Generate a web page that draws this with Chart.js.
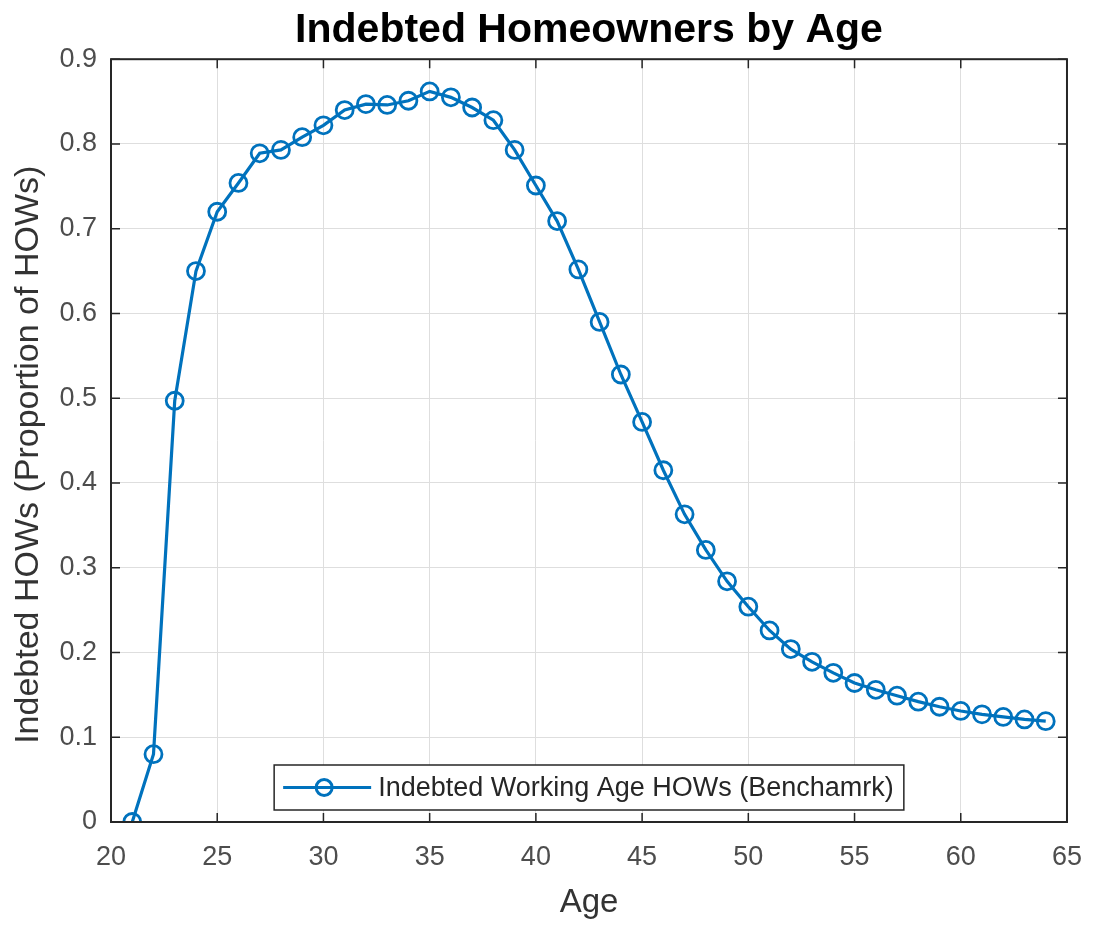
<!DOCTYPE html>
<html>
<head>
<meta charset="utf-8">
<script src="https://cdn.jsdelivr.net/npm/chart.js@4/dist/chart.umd.min.js"></script>
<style>
  html, body { margin: 0; padding: 0; background: #fff; }
  #wrap { width: 1101px; height: 926px; }
</style>
</head>
<body>
<div id="wrap"><canvas id="how"></canvas></div>
<script>
const ages = [21, 22, 23, 24, 25, 26, 27, 28, 29, 30, 31, 32, 33, 34, 35, 36, 37, 38, 39, 40, 41, 42,
    43, 44, 45, 46, 47, 48, 49, 50, 51, 52, 53, 54, 55, 56, 57, 58, 59, 60, 61, 62, 63, 64];
const indebted = [0.000, 0.080, 0.497, 0.650, 0.720, 0.754, 0.789, 0.793, 0.808, 0.822, 0.840, 0.847,
    0.846, 0.851, 0.862, 0.855, 0.843, 0.828, 0.793, 0.751, 0.709, 0.652, 0.590, 0.528, 0.472, 0.415,
    0.363, 0.321, 0.284, 0.254, 0.226, 0.204, 0.189, 0.176, 0.164, 0.156, 0.149, 0.142, 0.136, 0.131,
    0.127, 0.124, 0.121, 0.119];
const seriesName = 'Indebted Working Age HOWs (Benchamrk)';
const blue = '#0072BD';
const fontFam = '"Liberation Sans", Arial, sans-serif';

// box, inward ticks on all four sides and the legend inside the axes (matlab style)
const matlabBox = {
    id: 'matlabBox',
    afterLayout(chart) {
        // centre the title over the axes, not the whole canvas
        const a = chart.chartArea;
        if (chart.titleBlock) {
            chart.titleBlock.left = a.left;
            chart.titleBlock.right = a.right;
            chart.titleBlock.width = a.right - a.left;
        }
    },
    afterDatasetsDraw(chart) {
        const ctx = chart.ctx;
        const a = chart.chartArea;
        const xs = chart.scales.x;
        const ys = chart.scales.y;
        const tl = 9;
        ctx.save();
        ctx.strokeStyle = '#262626';
        ctx.lineWidth = 1.5;
        ctx.beginPath();
        xs.ticks.forEach(t => {
            const px = xs.getPixelForValue(t.value);
            ctx.moveTo(px, a.bottom); ctx.lineTo(px, a.bottom - tl);
            ctx.moveTo(px, a.top); ctx.lineTo(px, a.top + tl);
        });
        ys.ticks.forEach(t => {
            const py = ys.getPixelForValue(t.value);
            ctx.moveTo(a.left, py); ctx.lineTo(a.left + tl, py);
            ctx.moveTo(a.right, py); ctx.lineTo(a.right - tl, py);
        });
        ctx.stroke();
        ctx.lineWidth = 2;
        ctx.strokeRect(a.left, a.top, a.right - a.left, a.bottom - a.top);

        // legend, 'south' location
        ctx.font = '27px ' + fontFam;
        const tw = ctx.measureText(seriesName).width;
        const bw = 9 + 88 + 7 + tw + 10;
        const bh = 45;
        const bx = (a.left + a.right) / 2 - bw / 2;
        const by = a.bottom - 12 - bh;
        ctx.fillStyle = '#fff';
        ctx.fillRect(bx, by, bw, bh);
        ctx.strokeStyle = '#262626';
        ctx.lineWidth = 1.5;
        ctx.strokeRect(bx, by, bw, bh);
        const cy = by + bh / 2;
        ctx.strokeStyle = blue;
        ctx.lineWidth = 3;
        ctx.beginPath();
        ctx.moveTo(bx + 9, cy); ctx.lineTo(bx + 97, cy);
        ctx.stroke();
        ctx.beginPath();
        ctx.arc(bx + 50, cy, 8, 0, Math.PI * 2);
        ctx.stroke();
        ctx.fillStyle = '#262626';
        ctx.textBaseline = 'middle';
        ctx.textAlign = 'left';
        ctx.fillText(seriesName, bx + 104, cy + 1);
        ctx.restore();
    }
};

const ctxHow = document.getElementById('how').getContext('2d');
const howChart = new Chart(ctxHow, {
    type: 'line',
    data: {
        datasets: [{
            label: seriesName,
            data: ages.map((a, i) => ({ x: a, y: indebted[i] })),
            borderColor: blue,
            backgroundColor: 'transparent',
            borderWidth: 3.2,
            pointRadius: 8.5,
            pointBorderWidth: 2.8,
            pointBorderColor: blue,
            pointBackgroundColor: 'transparent',
            tension: 0
        }]
    },
    options: {
        responsive: true,
        maintainAspectRatio: false,
        animation: false,
        layout: { padding: { left: 0, right: 24, top: 0, bottom: 0 } },
        plugins: {
            legend: { display: false },
            tooltip: { enabled: false },
            title: {
                display: true,
                text: 'Indebted Homeowners by Age',
                color: '#000',
                font: { family: fontFam, size: 41, weight: 'bold', lineHeight: 1.2 },
                padding: { top: 6, bottom: 4 }
            }
        },
        scales: {
            x: {
                type: 'linear',
                min: 20,
                max: 65,
                ticks: {
                    stepSize: 5,
                    color: '#4d4d4d',
                    padding: 19,
                    font: { family: fontFam, size: 27 }
                },
                grid: { color: '#dedede', lineWidth: 1, drawTicks: false },
                border: { display: false },
                title: {
                    display: true,
                    text: 'Age',
                    color: '#333',
                    font: { family: fontFam, size: 33 },
                    padding: { top: 0, bottom: 3 }
                },
                afterFit(scale) { scale.height = 104; }
            },
            y: {
                min: 0,
                max: 0.9,
                ticks: {
                    stepSize: 0.1,
                    color: '#4d4d4d',
                    padding: 14,
                    font: { family: fontFam, size: 27 }
                },
                grid: { color: '#dedede', lineWidth: 1, drawTicks: false },
                border: { display: false },
                title: {
                    display: true,
                    text: 'Indebted HOWs (Proportion of HOWs)   ',
                    color: '#333',
                    font: { family: fontFam, size: 34 },
                    padding: { top: 8, bottom: 0 }
                },
                afterFit(scale) { scale.width = 111; }
            }
        }
    },
    plugins: [matlabBox]
});
</script>
</body>
</html>
